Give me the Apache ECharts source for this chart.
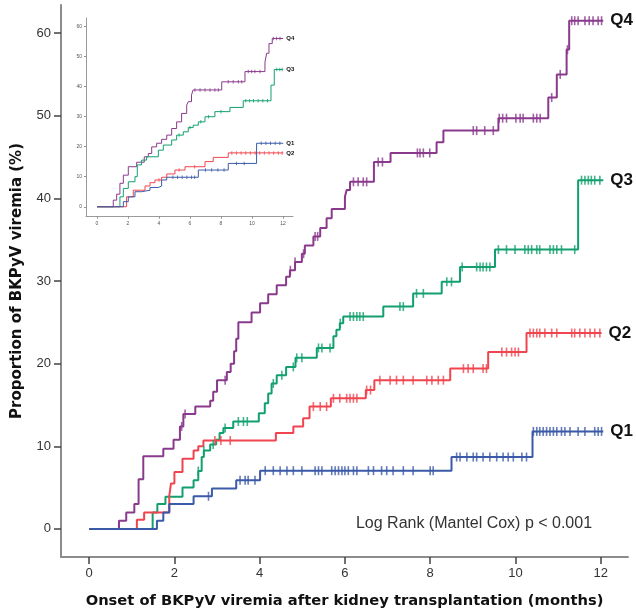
<!DOCTYPE html>
<html>
<head>
<meta charset="utf-8">
<script src="https://cdn.jsdelivr.net/npm/echarts@6/dist/echarts.min.js"></script>
<style>
  html, body { margin: 0; padding: 0; background: #fff; }
  #chart { width: 636px; height: 615px; }
</style>
</head>
<body>
<div id="chart"></div>
<script>
// ---- Main plot: cumulative proportion of BKPyV viremia by quartile ----
// step points: time (months) and cumulative proportion (%) after each event
const q4Time = [0, 0.70, 0.87, 1.06, 1.16, 1.27, 1.74, 1.98, 2.13, 2.21, 2.49, 2.84, 2.91, 3.00, 3.23, 3.32, 3.40, 3.45, 3.50, 3.81, 4.01, 4.20, 4.40, 4.62, 4.71, 4.83, 4.99, 5.06, 5.26, 5.42, 5.57, 5.69, 6.00, 6.04, 6.12, 6.68, 7.07, 8.15, 8.31, 9.60, 10.77, 10.97, 11.20, 11.26, 12.06];
const q4Value = [0, 1.0, 2.0, 3.0, 6.0, 8.8, 9.7, 10.8, 12.4, 13.9, 14.8, 15.5, 16.6, 18.0, 19.0, 20.0, 21.5, 23.0, 25.0, 26.2, 27.3, 28.4, 29.5, 30.5, 31.3, 32.3, 33.3, 34.3, 35.4, 36.4, 37.6, 38.7, 40.2, 41.0, 42.0, 44.4, 45.5, 46.8, 48.2, 49.7, 52.2, 55.0, 58.0, 61.5, 61.5];
const q4Censor = [2.17, 2.25, 3.19, 4.72, 4.83, 5.03, 5.30, 5.36, 6.20, 6.31, 6.43, 6.51, 6.78, 6.88, 7.70, 7.76, 7.84, 7.99, 9.01, 9.09, 9.28, 9.48, 9.62, 9.70, 9.79, 10.01, 10.11, 10.18, 10.42, 10.50, 10.58, 10.85, 11.05, 11.22, 11.32, 11.39, 11.47, 11.63, 11.73, 11.82, 11.94, 12.02];

const q3Time = [0, 1.49, 1.60, 1.79, 2.19, 2.45, 2.56, 2.64, 2.69, 2.84, 2.98, 3.06, 3.15, 3.38, 3.98, 4.12, 4.20, 4.28, 4.40, 4.62, 4.84, 5.34, 5.73, 5.80, 5.88, 5.96, 6.90, 7.60, 8.27, 8.70, 9.52, 11.47, 12.06];
const q3Value = [0, 2.0, 3.0, 3.9, 5.0, 5.9, 7.0, 8.7, 9.5, 10.2, 10.8, 11.6, 12.2, 13.0, 14.0, 15.2, 16.4, 17.6, 18.6, 19.6, 20.7, 21.9, 23.3, 24.1, 24.9, 25.7, 26.9, 28.5, 29.9, 31.7, 33.8, 42.2, 42.2];
const q3Censor = [2.56, 2.69, 2.91, 3.19, 3.50, 3.62, 3.71, 4.32, 4.52, 4.79, 4.87, 4.99, 5.38, 5.46, 5.65, 5.89, 6.12, 6.20, 6.28, 6.35, 6.43, 7.29, 7.37, 7.68, 7.84, 8.39, 8.50, 8.75, 9.09, 9.17, 9.24, 9.32, 9.40, 9.60, 9.79, 9.99, 10.22, 10.30, 10.38, 10.50, 10.57, 10.81, 10.89, 10.97, 11.08, 11.39, 11.55, 11.63, 11.71, 11.78, 11.86, 11.98];

const q2Time = [0, 1.12, 1.29, 1.88, 1.92, 2.00, 2.19, 2.45, 2.56, 2.68, 4.38, 4.79, 5.02, 5.17, 5.67, 6.49, 6.69, 8.47, 9.36, 10.26, 12.02];
const q2Value = [0, 1.1, 2.0, 4.0, 5.5, 6.9, 8.5, 9.5, 10.0, 10.7, 11.6, 12.4, 13.4, 14.8, 15.8, 16.8, 18.0, 19.4, 21.4, 23.7, 23.7];
const q2Censor = [2.95, 3.09, 3.31, 5.26, 5.42, 5.57, 5.73, 5.88, 6.04, 6.12, 6.20, 6.28, 6.51, 6.60, 6.82, 7.06, 7.21, 7.37, 7.60, 7.92, 8.04, 8.19, 8.31, 8.78, 8.89, 9.01, 9.24, 9.32, 9.68, 9.79, 9.91, 9.99, 10.07, 10.34, 10.42, 10.50, 10.57, 10.69, 10.85, 10.97, 11.32, 11.39, 11.51, 11.63, 11.75, 11.86, 11.98];

const q1Time = [0, 1.59, 1.74, 1.88, 2.45, 2.88, 3.45, 4.01, 8.50, 10.40, 12.06];
const q1Value = [0, 1.0, 2.0, 3.0, 3.95, 4.9, 5.9, 7.05, 8.7, 11.8, 11.8];
const q1Censor = [2.80, 3.54, 3.66, 3.73, 3.89, 4.13, 4.32, 4.48, 4.64, 4.79, 4.99, 5.30, 5.38, 5.46, 5.69, 5.77, 5.85, 5.93, 6.00, 6.08, 6.20, 6.28, 6.55, 6.67, 6.86, 6.98, 7.13, 7.37, 7.60, 8.00, 8.07, 8.62, 8.70, 8.86, 9.01, 9.09, 9.24, 9.40, 9.56, 9.71, 9.83, 9.95, 10.15, 10.26, 10.42, 10.50, 10.57, 10.65, 10.73, 10.81, 10.89, 10.97, 11.08, 11.16, 11.28, 11.47, 11.63, 11.86, 11.94, 12.02];

// ---- Inset plot ----
const iq4Time = [0, 1.05, 1.27, 1.48, 1.70, 2.02, 2.56, 3.05, 3.31, 3.53, 3.85, 4.17, 4.50, 4.82, 5.14, 5.46, 5.79, 5.89, 6.10, 6.20, 8.05, 9.55, 10.84, 10.95, 11.10, 11.31, 12.02];
const iq4Value = [0, 2.2, 4.2, 7.8, 10.5, 13.3, 14.8, 16.6, 17.7, 19.9, 21.1, 22.4, 23.8, 26.0, 28.2, 31.0, 33.8, 34.9, 37.1, 38.8, 41.5, 44.9, 48.0, 51.0, 54.2, 55.9, 55.9];
const iq4Censor = [6.32, 6.65, 6.97, 7.29, 7.61, 7.83, 8.47, 8.79, 9.12, 9.34, 9.76, 9.98, 10.19, 10.52, 11.38, 11.59, 11.81];

const iq3Time = [0, 1.48, 1.70, 2.02, 2.45, 2.60, 2.88, 3.20, 3.96, 4.28, 4.82, 5.14, 5.57, 5.89, 6.21, 6.54, 6.97, 7.61, 8.58, 9.44, 11.23, 11.44, 12.02];
const iq3Value = [0, 3.3, 6.1, 8.3, 10.0, 13.9, 15.5, 16.6, 18.8, 20.5, 22.2, 23.8, 24.9, 26.3, 27.1, 28.2, 29.9, 31.6, 33.0, 35.2, 40.4, 45.6, 45.6];
const iq3Censor = [5.30, 6.00, 6.70, 7.20, 8.00, 9.60, 9.85, 10.10, 10.40, 10.70, 11.00, 11.60, 11.80, 11.95];

const iq2Time = [0, 1.91, 2.34, 3.10, 3.42, 3.74, 4.17, 4.50, 5.03, 5.68, 6.97, 7.50, 8.47, 12.02];
const iq2Value = [0, 3.3, 5.5, 6.9, 8.0, 8.9, 9.8, 10.9, 12.2, 13.3, 15.0, 16.4, 17.9, 17.9];
const iq2Censor = [4.00, 5.30, 6.30, 8.70, 9.00, 9.30, 9.60, 9.90, 10.20, 10.50, 10.80, 11.10, 11.40, 11.70, 11.95];

const iq1Time = [0, 1.70, 2.02, 2.45, 2.88, 3.42, 3.96, 4.17, 4.50, 6.54, 8.47, 10.30, 12.02];
const iq1Value = [0, 1.7, 3.3, 5.0, 5.5, 6.4, 6.9, 8.9, 9.8, 12.2, 14.4, 21.1, 21.1];
const iq1Censor = [4.90, 5.20, 5.50, 5.80, 6.10, 6.30, 7.00, 7.40, 7.80, 8.20, 9.00, 9.50, 10.60, 10.90, 11.20, 11.50, 11.80];

// axis ticks
const xTicks = [0, 2, 4, 6, 8, 10, 12];
const yTicks = [0, 10, 20, 30, 40, 50, 60];

const groupNames = ['Q4', 'Q3', 'Q2', 'Q1'];
const colors = { Q4: '#8a3a8c', Q3: '#12a06e', Q2: '#f0454f', Q1: '#3b5aa8' };

const mainSets = {
  Q4: [q4Time, q4Value, q4Censor],
  Q3: [q3Time, q3Value, q3Censor],
  Q2: [q2Time, q2Value, q2Censor],
  Q1: [q1Time, q1Value, q1Censor]
};
const insetSets = {
  Q4: [iq4Time, iq4Value, iq4Censor],
  Q3: [iq3Time, iq3Value, iq3Censor],
  Q2: [iq2Time, iq2Value, iq2Censor],
  Q1: [iq1Time, iq1Value, iq1Censor]
};

// value of a step curve at time t
function stepValue(times, values, t) {
  let v = values[0];
  for (let i = 0; i < times.length; i++) {
    if (times[i] <= t) v = values[i];
  }
  return v;
}

function pairs(times, values) {
  return times.map((t, i) => [t, values[i]]);
}

const series = [];

function addCurves(sets, axisIdx, lineWidth, markSize, labelFont, labelGap) {
  groupNames.forEach(name => {
    const [times, values, censor] = sets[name];
    series.push({
      type: 'line',
      name: name,
      xAxisIndex: axisIdx,
      yAxisIndex: axisIdx,
      step: 'end',
      showSymbol: false,
      silent: true,
      data: pairs(times, values),
      lineStyle: { color: colors[name], width: lineWidth },
      endLabel: {
        show: true,
        formatter: name,
        distance: labelGap,
        color: '#111',
        fontWeight: 'bold',
        fontSize: labelFont,
        fontFamily: 'Liberation Sans, Arial, sans-serif'
      },
      z: 3
    });
    series.push({
      type: 'scatter',
      xAxisIndex: axisIdx,
      yAxisIndex: axisIdx,
      silent: true,
      symbol: 'rect',
      symbolSize: markSize,
      itemStyle: { color: colors[name] },
      data: censor.map(t => [t, stepValue(times, values, t)]),
      z: 4
    });
  });
}

addCurves(mainSets, 0, 2, [1.6, 9], 17, 7);
addCurves(insetSets, 1, 1, [1, 3.5], 6, 3);

const fontSans = 'Liberation Sans, Arial, sans-serif';
const fontTitle = 'DejaVu Sans, Verdana, sans-serif';

const option = {
  animation: false,
  backgroundColor: '#ffffff',
  grid: [
    { left: 61, top: 5, right: 8, bottom: 58, containLabel: false },
    { left: 86, top: 18, width: 207, height: 198.7, containLabel: false }
  ],
  xAxis: [
    {
      type: 'value', gridIndex: 0, min: -0.66, max: 12.64,
      name: 'Onset of BKPyV viremia after kidney transplantation (months)',
      nameLocation: 'middle', nameGap: 37,
      nameTextStyle: { fontFamily: fontTitle, fontWeight: 'bold', fontSize: 14.7, color: '#111' },
      axisLine: { show: true, onZero: false, lineStyle: { color: '#8c8c8c', width: 2 } },
      axisTick: { show: true, inside: false, customValues: xTicks, length: 7, lineStyle: { color: '#444', width: 1.5 } },
      axisLabel: { customValues: xTicks, fontSize: 13, color: '#333', margin: 10, fontFamily: fontSans },
      splitLine: { show: false }
    },
    {
      type: 'value', gridIndex: 1, min: -0.71, max: 12.65,
      axisLine: { show: true, onZero: false, lineStyle: { color: '#9a9a9a', width: 1 } },
      axisTick: { show: true, inside: false, customValues: xTicks, length: 2, lineStyle: { color: '#777', width: 0.8 } },
      axisLabel: { customValues: xTicks, fontSize: 5, color: '#555', margin: 4, fontFamily: fontSans },
      splitLine: { show: false }
    }
  ],
  yAxis: [
    {
      type: 'value', gridIndex: 0, min: -3.4, max: 63.4,
      name: 'Proportion of BKPyV viremia (%)',
      nameLocation: 'middle', nameGap: 36,
      nameTextStyle: { fontFamily: fontTitle, fontWeight: 'bold', fontSize: 15, color: '#111' },
      axisLine: { show: true, onZero: false, lineStyle: { color: '#8c8c8c', width: 2 } },
      axisTick: { show: true, inside: false, customValues: yTicks, length: 7, lineStyle: { color: '#444', width: 1.5 } },
      axisLabel: { customValues: yTicks, fontSize: 13, color: '#333', margin: 10, fontFamily: fontSans },
      splitLine: { show: false }
    },
    {
      type: 'value', gridIndex: 1, min: -3.3, max: 62.7,
      axisLine: { show: true, onZero: false, lineStyle: { color: '#9a9a9a', width: 1 } },
      axisTick: { show: true, inside: false, customValues: yTicks, length: 2, lineStyle: { color: '#777', width: 0.8 } },
      axisLabel: { customValues: yTicks, fontSize: 5, color: '#555', margin: 4, fontFamily: fontSans },
      splitLine: { show: false }
    }
  ],
  graphic: [
    {
      type: 'text',
      x: 474, y: 524,
      style: {
        text: 'Log Rank (Mantel Cox) p < 0.001',
        fontFamily: fontSans,
        fontSize: 16,
        fill: '#333',
        textAlign: 'center',
        textVerticalAlign: 'middle'
      },
      z: 10
    }
  ],
  series: series
};

const chart = echarts.init(document.getElementById('chart'), null, { renderer: 'canvas' });
chart.setOption(option);
</script>
</body>
</html>
